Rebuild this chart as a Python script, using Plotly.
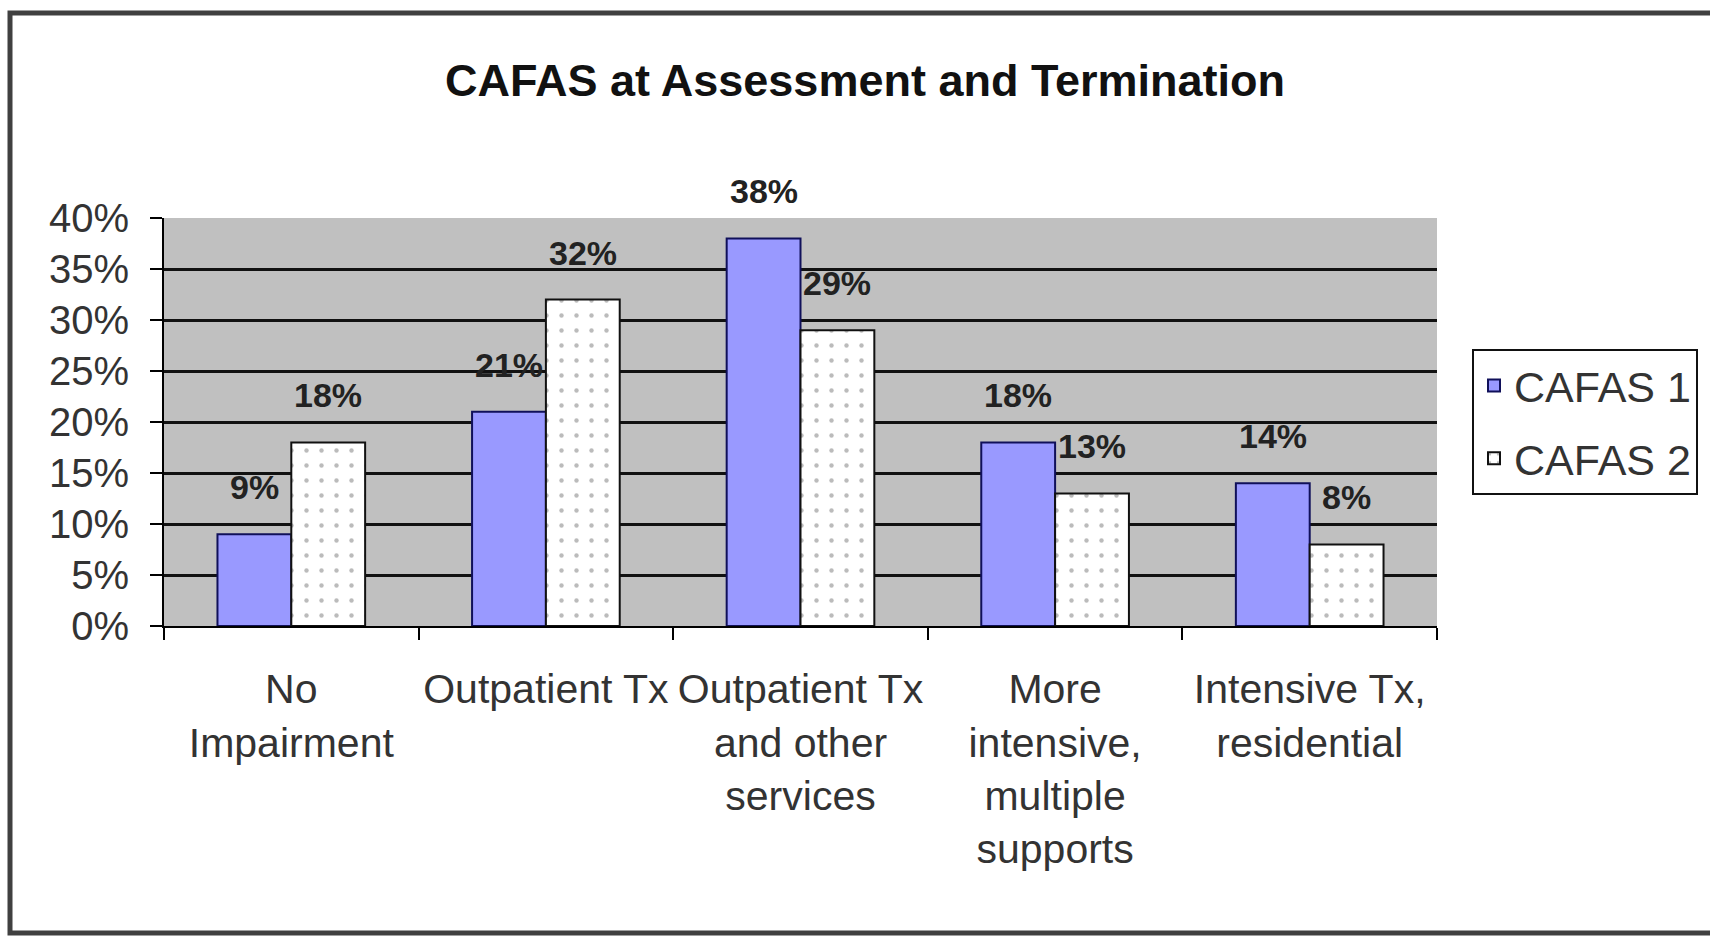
import plotly.graph_objects as go

categories = ["No<br>Impairment", "Outpatient Tx", "Outpatient Tx<br>and other<br>services",
              "More<br>intensive,<br>multiple<br>supports", "Intensive Tx,<br>residential"]
cafas1 = [0.09, 0.21, 0.38, 0.18, 0.14]
cafas2 = [0.18, 0.32, 0.29, 0.13, 0.08]
series_names = ["CAFAS 1", "CAFAS 2"]
y_ticks = [0, 0.05, 0.10, 0.15, 0.20, 0.25, 0.30, 0.35, 0.40]
y_ticklabels = ["0%", "5%", "10%", "15%", "20%", "25%", "30%", "35%", "40%"]

W, H = 1710, 937
L, R, T, B = 164, 273, 218, 311
plot_w = W - L - R
plot_h = H - T - B
BARGAP = 0.42
bar_w = plot_w / len(categories) * (1 - BARGAP) / 2

FONT = "Liberation Sans, Arial, sans-serif"

fig = go.Figure()
fig.add_trace(go.Bar(
    x=categories, y=cafas1, name=series_names[0], legendgroup="g1",
    marker=dict(color="#9999ff", line=dict(color="#10105a", width=2)),
))
fig.add_trace(go.Bar(
    x=categories, y=cafas2, name=series_names[1], legendgroup="g2",
    marker=dict(color="white", line=dict(color="#111111", width=2),
                pattern=dict(shape=".", bgcolor="white", fgcolor="#777777",
                             size=15, solidity=0.07)),
))

annotations = []
for vals, sign in ((cafas1, -1), (cafas2, 1)):
    for c, v in zip(categories, vals):
        annotations.append(dict(
            x=c, y=v, xref="x", yref="y", text=f"{round(v * 100)}%",
            showarrow=False, xshift=sign * bar_w / 2, yshift=47,
            yanchor="middle", xanchor="center",
            font=dict(family=FONT, size=34, color="#222222", weight="bold"),
        ))

def px_x(p):
    return (p - L) / plot_w

def px_y(p):
    return (H - B - p) / plot_h

shapes = [dict(
    type="rect", xref="paper", yref="paper",
    x0=px_x(10), x1=px_x(1720), y0=px_y(933), y1=px_y(13),
    line=dict(color="#404040", width=5), fillcolor="rgba(0,0,0,0)", layer="below",
)]

fig.update_layout(
    width=W, height=H,
    margin=dict(l=L, r=R, t=T, b=B),
    paper_bgcolor="white", plot_bgcolor="#c0c0c0",
    barmode="group", bargap=BARGAP, bargroupgap=0,
    title=dict(text="<b>CAFAS at Assessment and Termination</b>",
               x=865 / W, xanchor="center", y=1 - 80 / H, yanchor="middle",
               yref="container", xref="container",
               font=dict(family=FONT, size=45, color="#111111")),
    font=dict(family=FONT, color="#333333"),
    xaxis=dict(
        tickson="boundaries", ticks="outside", ticklen=12, tickwidth=2,
        tickcolor="black", showline=True, linecolor="black", linewidth=2,
        showgrid=False, tickfont=dict(size=41, color="#333333"),
        tickangle=0, ticklabelstandoff=26,
    ),
    yaxis=dict(
        range=[0, 0.4], tickvals=y_ticks, ticktext=y_ticklabels,
        ticks="outside", ticklen=12, tickwidth=2, tickcolor="black",
        showline=True, linecolor="black", linewidth=2,
        showgrid=False, zeroline=False,
        tickfont=dict(size=40, color="#333333"),
        ticklabelstandoff=13,
        minor=dict(tickvals=y_ticks[1:-1], showgrid=True, gridcolor="#111111",
                   gridwidth=2.5, ticks=""),
    ),
    legend=dict(
        x=px_x(1472), y=px_y(349), xanchor="left", yanchor="top",
        bgcolor="white", bordercolor="#111111", borderwidth=2,
        font=dict(family=FONT, size=43, color="#333333"),
        tracegroupgap=14,
    ),
    annotations=annotations,
    shapes=shapes,
)

fig.write_html("out.html")
